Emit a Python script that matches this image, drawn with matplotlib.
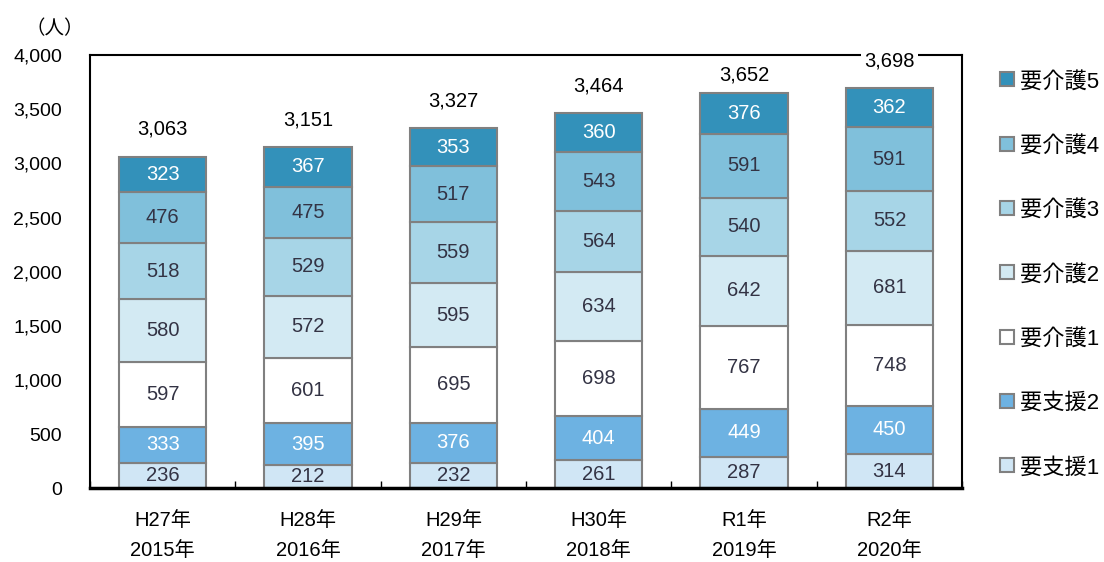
import numpy as np
import matplotlib
matplotlib.use("Agg")
import matplotlib.pyplot as plt
from matplotlib.lines import Line2D

plt.rcParams['font.family'] = ['Liberation Sans', 'Noto Sans CJK JP']

years = ["H27年\n2015年", "H28年\n2016年", "H29年\n2017年",
         "H30年\n2018年", "R1年\n2019年", "R2年\n2020年"]
levels = ["要支援1", "要支援2", "要介護1", "要介護2", "要介護3", "要介護4", "要介護5"]

shien1 = [236, 212, 232, 261, 287, 314]
shien2 = [333, 395, 376, 404, 449, 450]
kaigo1 = [597, 601, 695, 698, 767, 748]
kaigo2 = [580, 572, 595, 634, 642, 681]
kaigo3 = [518, 529, 559, 564, 540, 552]
kaigo4 = [476, 475, 517, 543, 591, 591]
kaigo5 = [323, 367, 353, 360, 376, 362]
totals = [3063, 3151, 3327, 3464, 3652, 3698]

series = [shien1, shien2, kaigo1, kaigo2, kaigo3, kaigo4, kaigo5]
colors = ["#d0e6f5", "#6db2e2", "#ffffff", "#d3eaf3", "#a7d5e7", "#80c0db", "#3391ba"]
txtcol = ["#333344", "white", "#333344", "#333344", "#333344", "#333344", "white"]

fig = plt.figure(figsize=(11.04, 5.62), dpi=100)
ax = fig.add_axes([0.0815, 0.131, 0.790, 0.771])

x = np.arange(len(years))
bottom = np.zeros(len(years))
for vals, c, tc in zip(series, colors, txtcol):
    vals = np.array(vals)
    ax.bar(x, vals, 0.6, bottom=bottom, color=c, edgecolor="#808080", linewidth=1.5, zorder=2)
    for xi, b, v in zip(x, bottom, vals):
        ax.text(xi, b + v / 2, str(v), ha="center", va="center", fontsize=14.5, color=tc, zorder=3)
    bottom += vals

# total labels above the bars (the 5th one sits a bit lower, as in the original)
for xi, t in zip(x, totals):
    off = 165 if xi == 4 else 250
    ax.text(xi, t + off, f"{t:,}", ha="center", va="center", fontsize=14.5, color="black",
            zorder=4, bbox=dict(facecolor="white", edgecolor="none", pad=2), clip_on=False)

ax.set_xlim(-0.5, 5.5)
ax.set_ylim(0, 4000)
ax.set_yticks(np.arange(0, 4001, 500))
ax.set_yticklabels([f"{v:,}" for v in range(0, 4001, 500)], fontsize=14)
ax.set_xticks(x)
ax.set_xticklabels(years, fontsize=14.5, linespacing=1.75)
ax.tick_params(axis="x", length=0, pad=16)
ax.tick_params(axis="y", length=0, pad=20)
ax.set_xticks(np.arange(-0.5, 5.6, 1), minor=True)
ax.tick_params(axis="x", which="minor", direction="in", length=5, width=1)
for s in ["top", "right", "left"]:
    ax.spines[s].set_linewidth(1.5)
ax.spines["bottom"].set_linewidth(2.5)

ax.text(-0.04, 1.06, "（人）", transform=ax.transAxes, ha="center", va="center", fontsize=14)

handles = [Line2D([], [], marker="s", linestyle="none", markersize=10,
                  markerfacecolor=c, markeredgecolor="#808080", markeredgewidth=1.5)
           for c in colors]
leg = fig.legend(handles[::-1], levels[::-1], loc="upper left", bbox_to_anchor=(0.898, 0.889),
                 frameon=False, fontsize=16, handlelength=0.6, handletextpad=0.3,
                 labelspacing=1.95, borderaxespad=0)

fig.savefig("out.png", dpi=100)
